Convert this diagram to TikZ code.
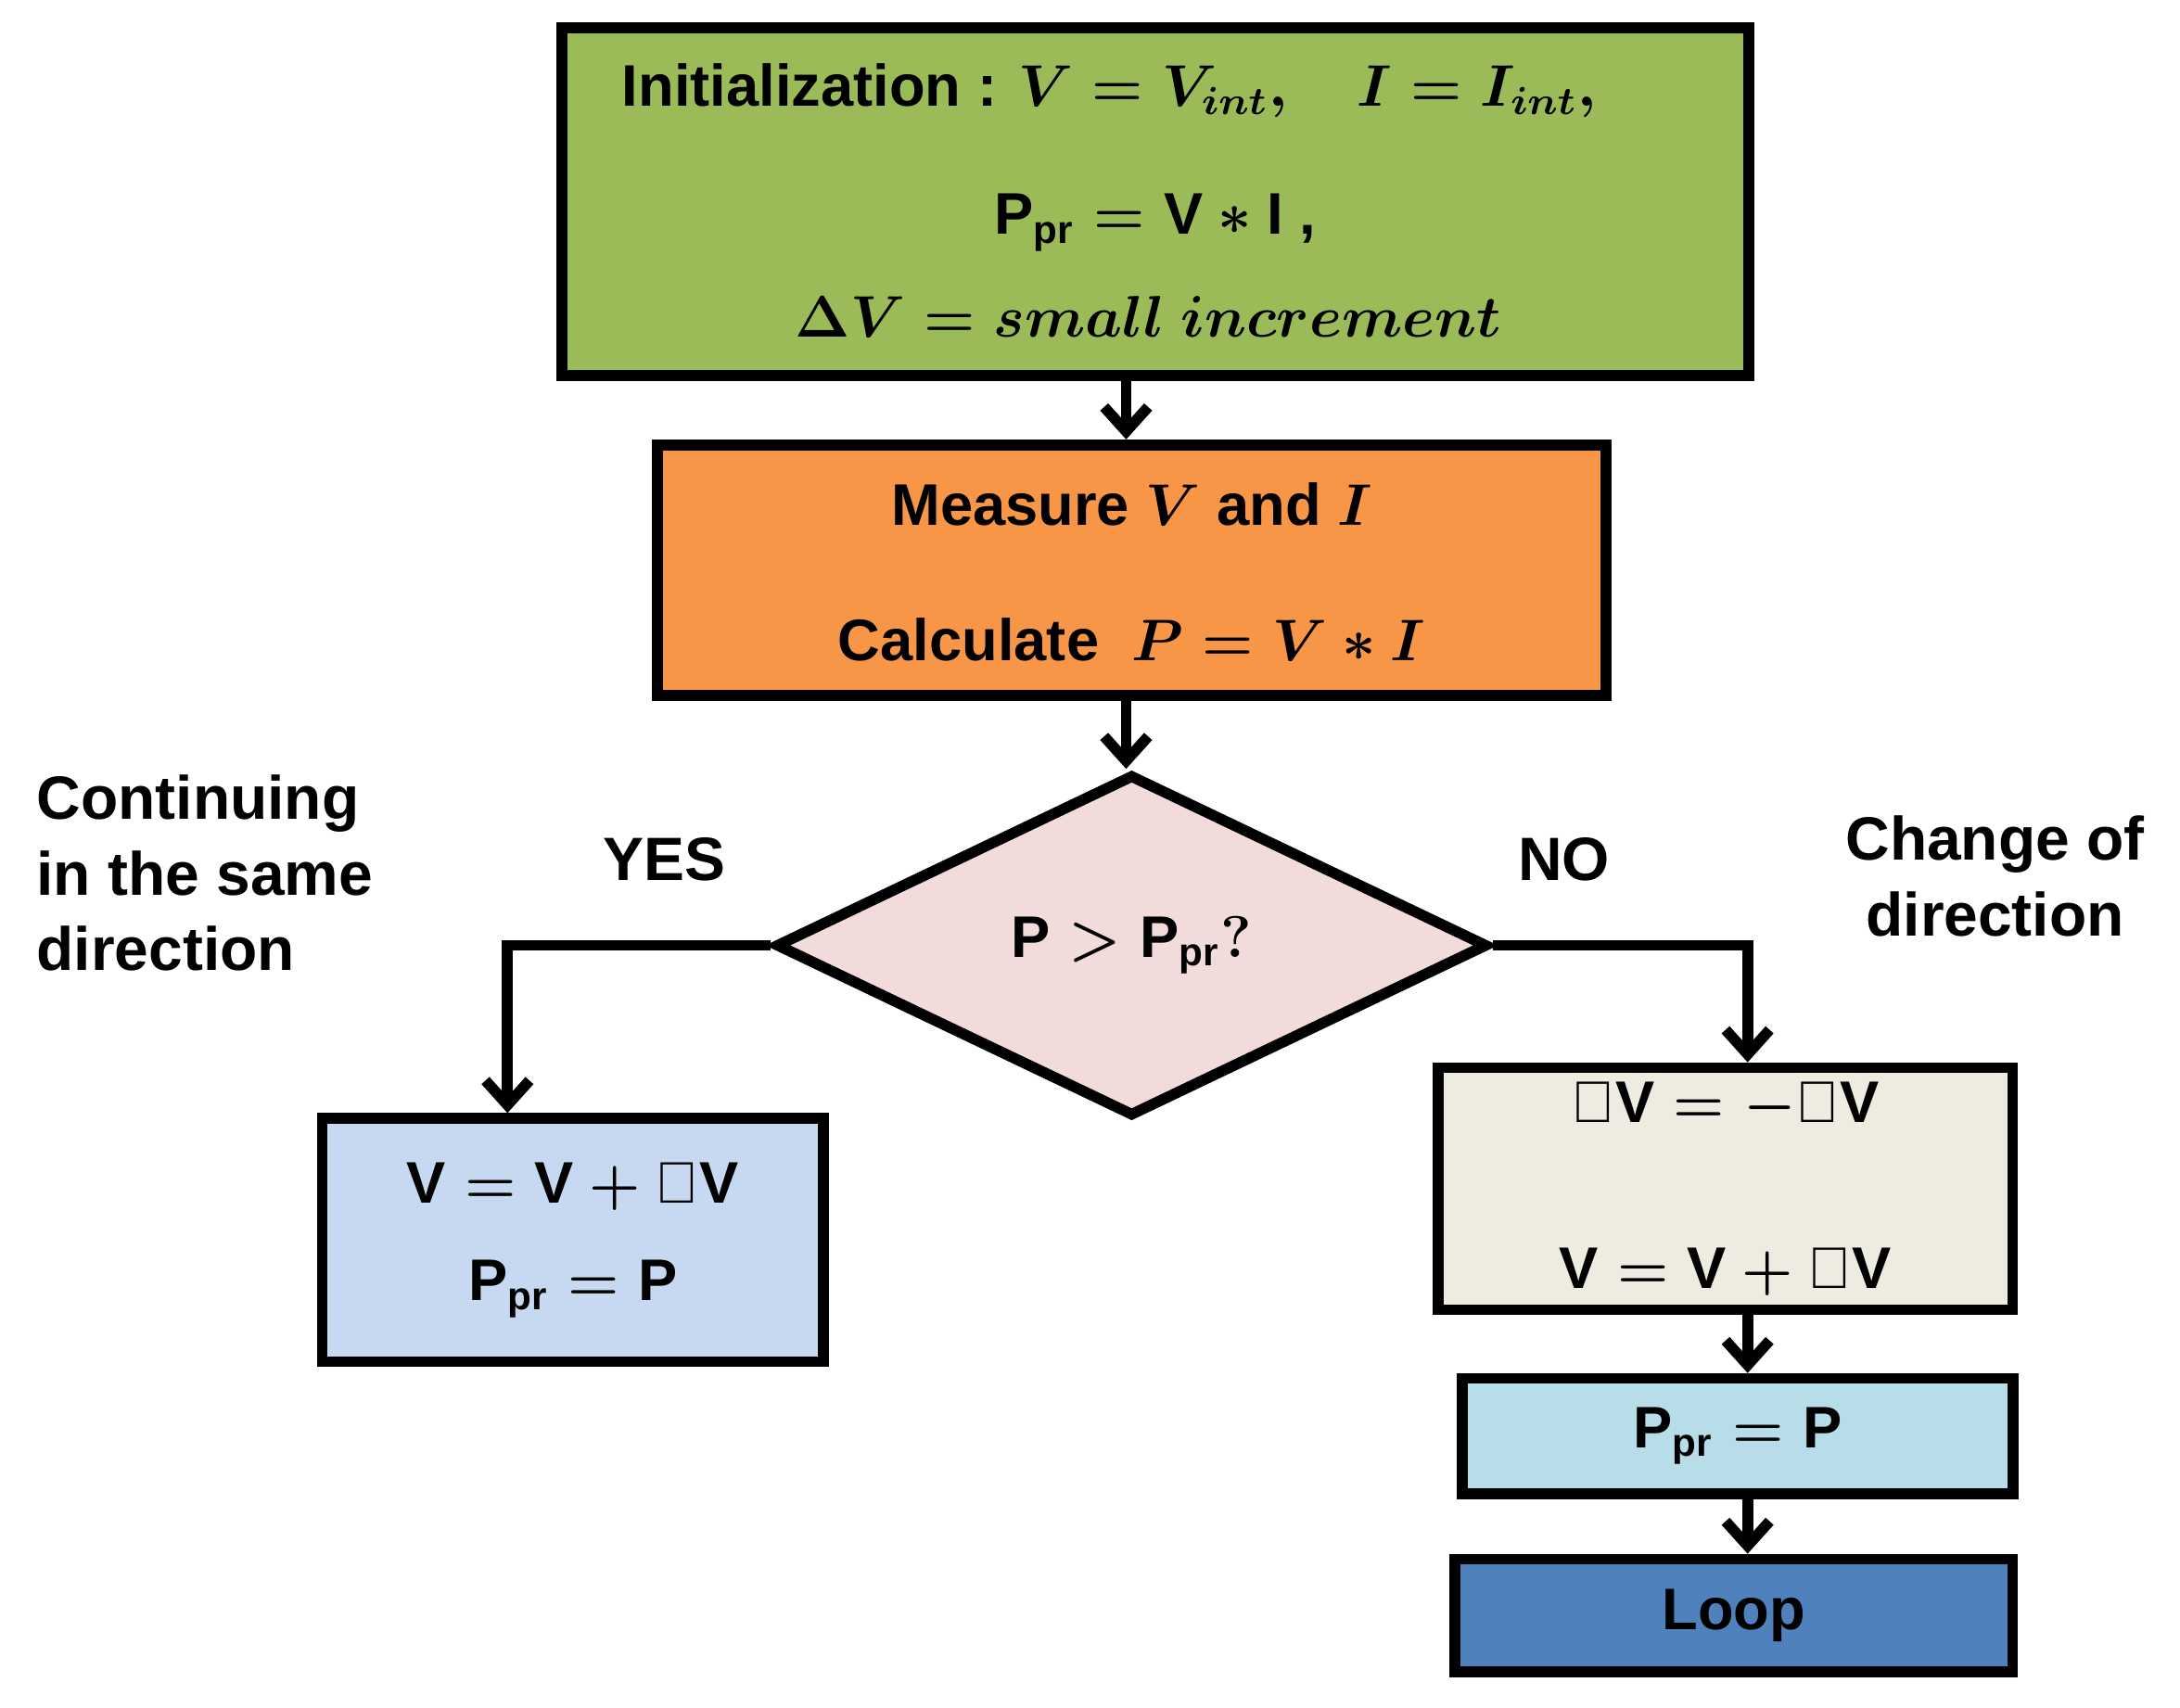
\documentclass[tikz,border=0pt]{standalone}
\usepackage{amsmath}
\usepackage{fontspec}
\setmainfont{Liberation Sans}
\usetikzlibrary{shapes.geometric,arrows.meta}
\definecolor{initgreen}{HTML}{9BBB59}
\definecolor{measorange}{HTML}{F79646}
\definecolor{decpink}{HTML}{F2DCDB}
\definecolor{yesblue}{HTML}{C6D9F1}
\definecolor{nobeige}{HTML}{EEECE1}
\definecolor{prcyan}{HTML}{B7DEE8}
\definecolor{loopblue}{HTML}{4F81BD}
\tikzset{box/.style={draw,line width=2.2pt,inner sep=0pt,align=center,font=\fontsize{12}{14}\selectfont\bfseries\boldmath}}
\tikzset{txt/.style={font=\fontsize{12}{14}\selectfont\bfseries\boldmath}}
\tikzset{flow/.style={draw,line width=2.2pt,-{Straight Barb[length=5pt,width=9pt]}}}
\tikzset{lbl/.style={font=\fontsize{12.5}{15.5}\selectfont\bfseries,align=left}}
\begin{document}
\begin{tikzpicture}[x=0.01cm,y=-0.01cm]
  \useasboundingbox (0,0) rectangle (1568,1228);
  \node[box,fill=initgreen,minimum width=8.53cm,minimum height=2.5cm] (init) at (831,145) {};
  \node[txt,anchor=west] (inita) at (435,65) {Initialization : $V=V_{int},\quad I=I_{int},$};
  \node[txt] (initb) at (831,160) {$\mathrm{P_{pr}=V*I}$ ,};
  \node[txt] (initc) at (826,228) {$\Delta V = small\ increment$};
  \node[box,fill=measorange,minimum width=6.82cm,minimum height=1.8cm] (meas) at (814,410) {};
  \node[txt] (measa) at (814,363) {Measure $V$ and $I$};
  \node[txt] (measb) at (814,460) {Calculate\ \ $P=V*I$};
  \node[box,diamond,fill=decpink,minimum width=5.12cm,minimum height=2.46cm,aspect=2.08] (dec) at (814,680) {$\mathrm{P>P_{pr}?}$};
  \node[box,fill=yesblue,minimum width=3.6cm,minimum height=1.75cm] (yes) at (412,892) {$\mathrm{V=V+\Delta V}$\\[6pt]$\mathrm{P_{pr}=P}$};
  \node[box,fill=nobeige,minimum width=4.13cm,minimum height=1.74cm] (no) at (1241,855) {$\mathrm{\Delta V=-\Delta V}$\\[20pt]$\mathrm{V=V+\Delta V}$};
  \node[box,fill=prcyan,minimum width=3.96cm,minimum height=0.83cm] (upd) at (1250,1033) {$\mathrm{P_{pr}=P}$};
  \node[box,fill=loopblue,minimum width=4.01cm,minimum height=0.81cm] (loop) at (1247,1162) {Loop};
  \coordinate (lc) at (365,680);
  \coordinate (rc) at (1257,680);
  \coordinate (mc) at (810,0);
  \draw[flow] (init.south -| mc) -- (meas.north -| mc);
  \draw[flow] (meas.south -| mc) -- (dec.north -| mc);
  \draw[flow] (dec.west) -- (lc) -- (yes.north -| lc);
  \draw[flow] (dec.east) -- (rc) -- (no.north -| rc);
  \draw[flow] (no.south -| rc) -- (upd.north -| rc);
  \draw[flow] (upd.south -| rc) -- (loop.north -| rc);
  \node[lbl,anchor=north west] (same) at (14,545) {Continuing\\in the same\\direction};
  \node[lbl] (yeslbl) at (478,618) {YES};
  \node[lbl] (nolbl) at (1125,618) {NO};
  \node[lbl,align=center] (chg) at (1435,630) {Change of\\direction};
\end{tikzpicture}
\end{document}
